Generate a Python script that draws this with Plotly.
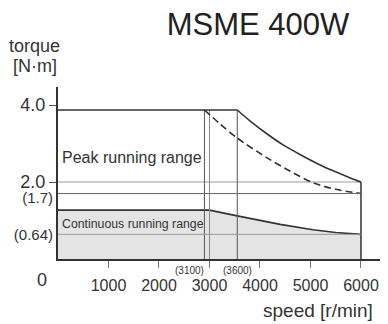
import plotly.graph_objects as go

# ---- data ----
peak_torque = 3.87            # flat top of peak running range
cont_torque = 1.27            # flat top of continuous running range
peak_knee = 3550              # speed where solid peak curve bends (labelled 3600)
dashed_knee = 2900            # speed where dashed curve starts (labelled 3100)
cont_knee = 3000              # speed where continuous curve bends
max_speed = 6000

peak_speed = [3550, 3800, 4150, 4450, 4800, 5150, 5450, 5800, 6000]
peak_vals = [3.87, 3.59, 3.24, 2.97, 2.71, 2.47, 2.29, 2.10, 2.00]

dash_speed = [2900, 3200, 3550, 4150, 4600, 5050, 5500, 6000]
dash_vals = [3.87, 3.52, 3.14, 2.62, 2.28, 1.98, 1.81, 1.70]

cont_speed = [0, 3000, 3550, 4000, 4400, 5050, 5500, 6000]
cont_vals = [1.27, 1.27, 1.12, 1.00, 0.90, 0.76, 0.69, 0.64]

ref_levels = [2.0, 1.7, 0.64]
x_ticks = [1000, 2000, 3000, 4000, 5000, 6000]
y_ticks_main = [2.0, 4.0]
y_ticks_main_text = ["2.0", "4.0"]
knee_labels = ["(3100)", "(3600)"]

SANS = "Liberation Sans, Arial, Helvetica, sans-serif"
DARK = "#333333"

fig = go.Figure()

# continuous running range (filled)
fig.add_trace(go.Scatter(x=cont_speed, y=cont_vals, mode="lines", fill="tozeroy",
                         fillcolor="#e4e4e4", line=dict(color=DARK, width=1.6),
                         hoverinfo="skip", showlegend=False))

# reference horizontal lines (2.0 on y, 1.7 on y2, 0.64 on y3 so each gets its own label style)
ref_colors = ["#9a9a9a", "#666666", "#9a9a9a"]
ref_axes = ["y", "y2", "y3"]
for lvl, col, ax in zip(ref_levels, ref_colors, ref_axes):
    fig.add_trace(go.Scatter(x=[0, max_speed], y=[lvl, lvl], mode="lines",
                             line=dict(color=col, width=1), yaxis=ax,
                             hoverinfo="skip", showlegend=False))

# vertical knee lines
for xs, col in zip([dashed_knee, cont_knee, peak_knee], ["#555555", "#8a8a8a", "#555555"]):
    fig.add_trace(go.Scatter(x=[xs, xs], y=[0, peak_torque], mode="lines",
                             line=dict(color=col, width=1),
                             hoverinfo="skip", showlegend=False))

# right edge at max speed
fig.add_trace(go.Scatter(x=[max_speed, max_speed], y=[0, peak_vals[-1]], mode="lines",
                         line=dict(color=DARK, width=1.5), hoverinfo="skip", showlegend=False))

# peak flat top
fig.add_trace(go.Scatter(x=[0, peak_knee], y=[peak_torque, peak_torque], mode="lines",
                         line=dict(color=DARK, width=1.6), hoverinfo="skip", showlegend=False))
# peak curve
fig.add_trace(go.Scatter(x=peak_speed, y=peak_vals, mode="lines",
                         line=dict(color=DARK, width=1.6, shape="spline", smoothing=0.8),
                         hoverinfo="skip", showlegend=False))
# dashed curve
fig.add_trace(go.Scatter(x=dash_speed, y=dash_vals, mode="lines",
                         line=dict(color=DARK, width=1.6, dash="7px,4px", shape="spline", smoothing=0.8),
                         hoverinfo="skip", showlegend=False))

YMAX = 4.468
paren_axis = dict(range=[0, YMAX], overlaying="y", side="left", ticks="", showline=False,
                  showgrid=False, zeroline=False, ticklabelstandoff=4,
                  tickfont=dict(family=SANS, size=15, color=DARK))

# page body has an 8px margin, so the figure is 8px smaller and margins shifted
fig.update_layout(
    width=380, height=316,
    margin=dict(l=50, r=0, t=79, b=65),
    paper_bgcolor="white", plot_bgcolor="white",
    font=dict(family=SANS, color=DARK),
    title=dict(text="MSME 400W", x=0.658, xanchor="center", y=0.949, yanchor="middle",
               font=dict(family=SANS, size=31, color="#222222")),
    xaxis=dict(range=[0, 6535], tickvals=x_ticks, ticktext=[str(v) for v in x_ticks],
               ticks="outside", ticklen=7, tickcolor="#777777", tickwidth=1,
               showline=True, linecolor=DARK, linewidth=2, showgrid=False, zeroline=False,
               tickfont=dict(family=SANS, size=16, color=DARK), ticklabelstandoff=4),
    yaxis=dict(range=[0, YMAX], tickvals=y_ticks_main, ticktext=y_ticks_main_text,
               ticks="outside", ticklen=7, tickcolor="#555555", tickwidth=1,
               showline=True, linecolor=DARK, linewidth=2, showgrid=False, zeroline=False,
               tickfont=dict(family=SANS, size=18, color=DARK)),
    yaxis2=dict(paren_axis, tickvals=[ref_levels[1]], ticktext=["(1.7)"], ticklabelshift=4),
    yaxis3=dict(paren_axis, tickvals=[ref_levels[2]], ticktext=["(0.64)"]),
)

ann = [
    dict(text="torque", x=-0.07, y=1.238, xref="paper", yref="paper", xanchor="center",
         yanchor="middle", font=dict(family=SANS, size=18, color=DARK)),
    dict(text="[N·m]", x=-0.07, y=1.125, xref="paper", yref="paper", xanchor="center",
         yanchor="middle", font=dict(family=SANS, size=18, color=DARK)),
    dict(text="speed [r/min]", x=0.788, y=-0.302, xref="paper", yref="paper", xanchor="center",
         yanchor="middle", font=dict(family=SANS, size=19, color=DARK)),
    dict(text="0", x=-0.05, y=-0.122, xref="paper", yref="paper", xanchor="center",
         yanchor="middle", font=dict(family=SANS, size=18, color=DARK)),
    dict(text="Peak running range", x=45, y=2.63, xref="x", yref="y", xanchor="left",
         yanchor="middle", font=dict(family=SANS, size=16, color=DARK)),
    dict(text="Continuous running range", x=30, y=0.90, xref="x", yref="y", xanchor="left",
         yanchor="middle", font=dict(family=SANS, size=12.3, color=DARK)),
    dict(text=knee_labels[0], x=dashed_knee, y=-0.067, xref="x", yref="paper", xanchor="right",
         xshift=2, yanchor="middle", font=dict(family=SANS, size=10, color=DARK)),
    dict(text=knee_labels[1], x=peak_knee, y=-0.067, xref="x", yref="paper", xanchor="center",
         yanchor="middle", font=dict(family=SANS, size=10, color=DARK)),
]
for a in ann:
    a["showarrow"] = False
fig.update_layout(annotations=ann)

fig.write_html("out.html")
